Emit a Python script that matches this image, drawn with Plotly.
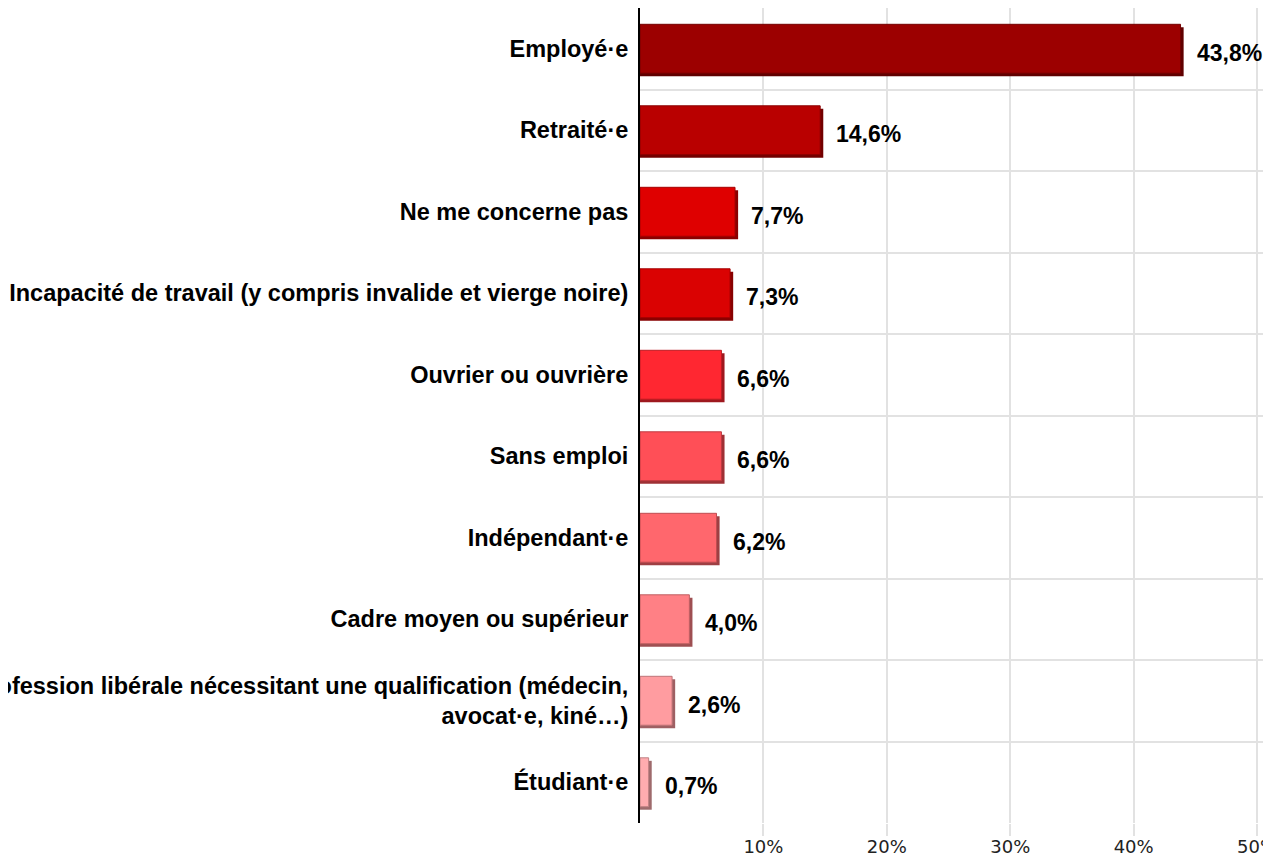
import plotly.graph_objects as go

categories = [
    "Employé·e",
    "Retraité·e",
    "Ne me concerne pas",
    "Incapacité de travail (y compris invalide et vierge noire)",
    "Ouvrier ou ouvrière",
    "Sans emploi",
    "Indépendant·e",
    "Cadre moyen ou supérieur",
    "Profession libérale nécessitant une qualification (médecin,<br>avocat·e, kiné…)",
    "Étudiant·e",
]
values = [43.8, 14.6, 7.7, 7.3, 6.6, 6.6, 6.2, 4.0, 2.6, 0.7]
value_labels = ["43,8%", "14,6%", "7,7%", "7,3%", "6,6%", "6,6%", "6,2%", "4,0%", "2,6%", "0,7%"]
colors = ["#9C0000", "#B90000", "#DF0000", "#DA0202", "#FF2731", "#FF4F57",
          "#FF676D", "#FF8085", "#FF9CA0", "#FFACAF"]
x_tickvals = [10, 20, 30, 40, 50]
x_ticktext = ["10%", "20%", "30%", "40%", "50%"]


def darken(hex_color, f):
    h = hex_color.lstrip("#")
    r, g, b = (int(h[i:i + 2], 16) for i in (0, 2, 4))
    return "#%02x%02x%02x" % (int(r * f), int(g * f), int(b * f))


shadow_colors = [darken(c, 0.62) for c in colors]
edge_colors = [darken(c, 0.75) for c in colors]

BAR_W = 0.6
SH_Y = 0.037   # shadow offset along the category axis
SH_X = 0.25    # shadow offset along the value axis

LABEL_FONT = "Liberation Sans, Arial, sans-serif"

fig = go.Figure()
fig.add_trace(go.Bar(
    y=categories, x=[v + SH_X for v in values], orientation="h",
    width=BAR_W, offset=-BAR_W / 2 + SH_Y,
    marker=dict(color=shadow_colors, line=dict(width=0)),
    hoverinfo="skip", showlegend=False,
))
fig.add_trace(go.Bar(
    y=categories, x=values, orientation="h",
    width=BAR_W, offset=-BAR_W / 2,
    marker=dict(color=colors, line=dict(color=edge_colors, width=1)),
    showlegend=False,
))

for cat, v, lab in zip(categories, values, value_labels):
    fig.add_annotation(
        x=v, y=cat, text=lab, showarrow=False, xanchor="left", yanchor="middle",
        xshift=14, yshift=-4,
        font=dict(family=LABEL_FONT, size=23, color="#000000", weight="bold"),
    )

# the page body has an 8px margin, so the figure is drawn 8px right/down
fig.update_layout(
    width=1263, height=850,
    margin=dict(l=632, r=0, t=0, b=35, autoexpand=False),
    paper_bgcolor="white", plot_bgcolor="white",
    barmode="overlay", bargap=0.4,
)
fig.update_xaxes(
    range=[0, 51.13], tickvals=x_tickvals, ticktext=x_ticktext,
    showgrid=True, gridcolor="#e2e2e2", gridwidth=1.5,
    ticks="outside", ticklen=12, tickcolor="#e2e2e2", tickwidth=1.5,
    ticklabelstandoff=-5,
    tickfont=dict(family="DejaVu Sans, Verdana, sans-serif", size=18, color="#222222"),
    ticklabeloverflow="allow", automargin=False,
    zeroline=False, showline=False, fixedrange=True,
)
fig.update_yaxes(
    type="category", autorange="reversed", tickson="boundaries",
    showgrid=True, gridcolor="#e2e2e2", gridwidth=1.5,
    showline=True, linecolor="#000000", linewidth=2,
    ticks="", ticklabelstandoff=5, automargin=False,
    tickfont=dict(family=LABEL_FONT, size=23.5, color="#000000", weight="bold"),
    fixedrange=True,
)

fig.write_html("out.html")
